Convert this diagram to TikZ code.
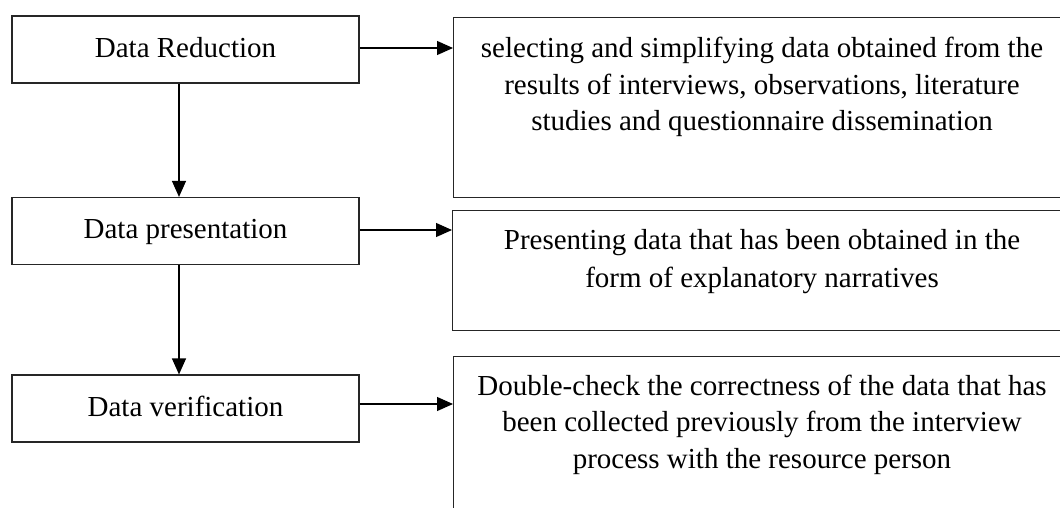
\documentclass[tikz,border=0pt]{standalone}
\usepackage{fontspec}
\setmainfont{Liberation Serif}
\usetikzlibrary{arrows.meta}
\begin{document}
\begin{tikzpicture}[x=1pt,y=-1pt,
  lbox/.style={draw=black!85, line width=1.2pt, minimum width=347pt, minimum height=67pt,
    inner sep=0pt, text height=18.5pt, text depth=3.5pt,
    font=\fontsize{29pt}{36pt}\selectfont},
  rbox/.style={draw=black!85, line width=1.2pt, anchor=north west, inner sep=0pt,
    minimum width=618pt},
  txt/.style={align=center, inner sep=0pt, anchor=north},
  arr/.style={line width=1.2pt, -{Triangle[length=16pt,width=14pt]}}]
\useasboundingbox (0,0) rectangle (1060,507);
\clip (0,0) rectangle (1060,507);
\fill[white] (0,0) rectangle (1060,507);

% left boxes
\node[lbox] (b1) at (185.5,49.5) {Data Reduction};
\node[lbox] (b2) at (185.5,231) {Data presentation};
\node[lbox] (b3) at (185.5,408.5) {Data verification};

% right boxes
\node[rbox, minimum height=180pt] (r1) at (453,17) {};
\node[rbox, minimum height=120pt] (r2) at (452,210) {};
\node[rbox, minimum height=180pt] (r3) at (453,356) {};

\node[txt, font=\fontsize{29pt}{36.5pt}\selectfont] (t1) at (762,37.2)
  {selecting and simplifying data obtained from the\\
   results of interviews, observations, literature\\
   studies and questionnaire dissemination};
\node[txt, font=\fontsize{29pt}{38pt}\selectfont] (t2) at (762,229.2)
  {Presenting data that has been obtained in the\\
   form of explanatory narratives};
\node[txt, font=\fontsize{29pt}{36.5pt}\selectfont] (t3) at (762,374.7)
  {Double-check the correctness of the data that has\\
   been collected previously from the interview\\
   process with the resource person};

% connectors
\draw[arr] ([xshift=-6.5pt]b1.south) -- ([xshift=-6.5pt]b2.north);
\draw[arr] ([xshift=-6.5pt]b2.south) -- ([xshift=-6.5pt]b3.north);
\draw[arr] ([yshift=1.5pt]b1.east) -- ([yshift=1.5pt]b1.east -| r1.west);
\draw[arr] ([yshift=1pt]b2.east) -- ([yshift=1pt]b2.east -| r2.west);
\draw[arr] ([yshift=4.5pt]b3.east) -- ([yshift=4.5pt]b3.east -| r3.west);
\end{tikzpicture}
\end{document}
